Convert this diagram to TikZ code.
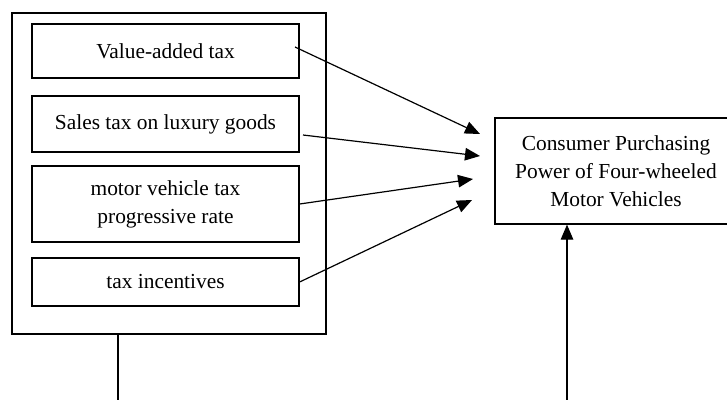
\documentclass[tikz,border=0pt]{standalone}
\usepackage{fontspec}
\setmainfont{Liberation Serif}
\usetikzlibrary{arrows.meta}
\begin{document}
\begin{tikzpicture}[x=1pt,y=-1pt, line width=1.2pt,
 frame/.style={draw, rectangle, inner sep=0pt},
 box/.style={draw, rectangle, inner sep=0pt, align=center, font=\fontsize{21.4}{28}\selectfont},
 arr/.style={-{Triangle[length=15pt,width=12.5pt]}}]
\useasboundingbox (0,0) rectangle (727,399);
\clip (-1,-1) rectangle (728,400);
\node[frame, minimum width=314pt, minimum height=321pt] (outer) at (169,173.5) {};
\node[box, minimum width=267pt, minimum height=54pt] (b1) at (165.5,51) {Value-added tax};
\node[box, minimum width=267pt, minimum height=56pt] (b2) at (165.5,124) {Sales tax on luxury goods};
\node[box, minimum width=267pt, minimum height=76pt] (b3) at (165.5,204) {motor vehicle tax\\progressive rate};
\node[box, minimum width=267pt, minimum height=48pt] (b4) at (165.5,282) {tax incentives};
\node[box, minimum width=242pt, minimum height=106pt] (cp) at (616,171) {Consumer Purchasing\\Power of Four-wheeled\\Motor Vehicles};
\coordinate (s1) at (295,47);
\coordinate (s2) at (303,135);
\coordinate (e1) at (480,134);
\coordinate (e2) at (480,156);
\coordinate (e3) at (473,179);
\coordinate (e4) at (472,200);
\draw[arr] (s1) -- (e1);
\draw[arr] (s2) -- (e2);
\draw[arr] (b3.east) -- (e3);
\draw[arr] (b4.east) -- (e4);
\coordinate (bl) at (118,401);
\coordinate (br) at (567,401);
\draw (outer.south -| bl) -- (bl);
\draw[arr] (br) -- (cp.south -| br);
\end{tikzpicture}
\end{document}
